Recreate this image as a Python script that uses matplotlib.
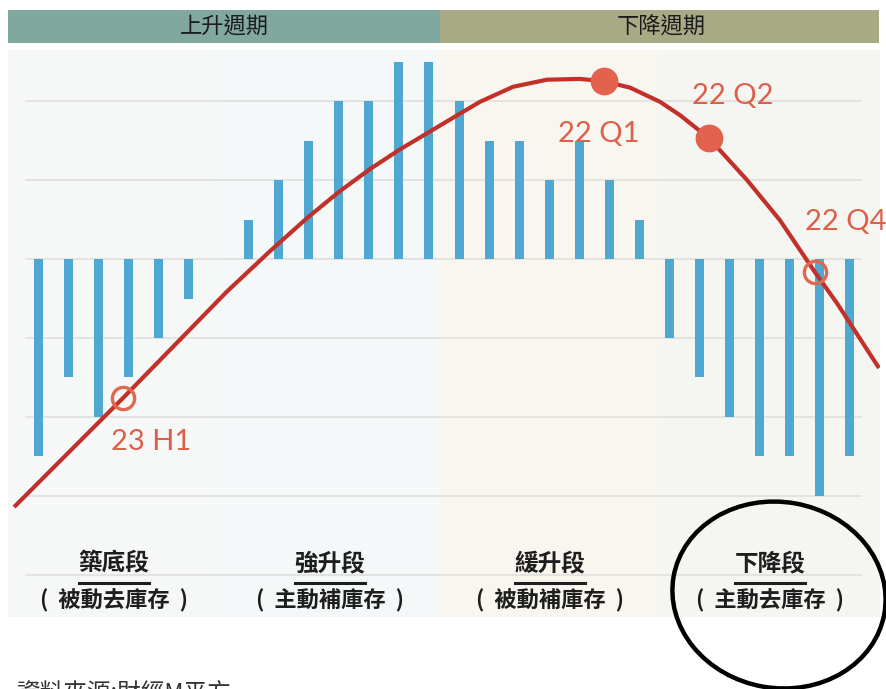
import matplotlib
matplotlib.use("Agg")
import matplotlib.pyplot as plt
from matplotlib.patches import Rectangle, Ellipse

plt.rcParams['font.family'] = ['Noto Sans CJK TC', 'DejaVu Sans']

# inventory bars, one slot per period (slot 6 is empty)
bar_values = [-2.5, -1.5, -2, -1.5, -1, -0.5,
              0,
              0.5, 1, 1.5, 2, 2, 2.5, 2.5,
              2, 1.5, 1.5, 1, 1.5, 1, 0.5,
              -1, -1.5, -2, -2.5, -2.5, -3, -2.5]
bar_pos = list(range(len(bar_values)))

# business cycle curve
curve_x = [-0.83, 2.8, 6.27, 7.73, 8.97, 10.0, 11.0, 12.0, 12.97, 14.03,
           14.7, 15.8, 16.93, 18.03, 18.83, 19.7, 20.7, 21.37, 22.33,
           23.6, 24.7, 25.87, 26.6, 28.0]
curve_y = [-3.14, -1.76, -0.41, 0.11, 0.53, 0.85, 1.13, 1.38, 1.60, 1.84,
           1.99, 2.18, 2.27, 2.28, 2.25, 2.17, 1.99, 1.82, 1.53,
           1.0, 0.49, -0.17, -0.56, -1.38]

# points marked on the curve
pt_names = ['23 H1', '22 Q1', '22 Q2', '22 Q4']
pt_x = [2.8, 18.83, 22.33, 25.87]
pt_y = [-1.76, 2.25, 1.53, -0.17]
pt_filled = [False, True, True, False]
pt_offset = [(20, -32), (-4, -38), (17, 30), (22, 36)]

phase_names = ['上升週期', '下降週期']
stage_names = ['築底段', '強升段', '緩升段', '下降段']
stage_notes = ['(  被動去庫存  )', '(  主動補庫存  )', '(  被動補庫存  )', '(  主動去庫存  )']
stage_edges = [-1.033, 6.033, 13.367, 20.7, 28.033]
stage_colors = ['#f6f7f7', '#f4f8f9', '#f9f6ef', '#f5f5f2']
grid_levels = [2, 1, 0, -1, -2, -3, -4]

W, H = 886, 689
fig = plt.figure(figsize=(W / 100, H / 100), dpi=100)
ax = fig.add_axes([8 / W, 72 / H, 872 / W, 567 / H])
ax.set_xlim(stage_edges[0], stage_edges[-1])
ax.set_ylim(-4.532, 2.646)
ax.axis('off')

for i in range(4):
    ax.axvspan(stage_edges[i], stage_edges[i + 1], color=stage_colors[i], lw=0, zorder=0)
ax.hlines(grid_levels, -0.47, 27.43, color='#e1e1de', lw=1.3, zorder=1)

ax.bar(bar_pos, bar_values, width=0.3, color='#4fa8d2', zorder=2)
ax.plot(curve_x, curve_y, color='#c2302a', lw=3, zorder=3,
        solid_capstyle='butt', solid_joinstyle='round')

for name, x, y, filled, off in zip(pt_names, pt_x, pt_y, pt_filled, pt_offset):
    if filled:
        ax.plot(x, y, 'o', ms=19, color='#e2624d', mec='#e2624d', zorder=4)
    else:
        ax.plot(x, y, 'o', ms=16, mfc='none', mec='#e2674f', mew=2.4, zorder=4)
    ax.annotate(name, (x, y), xytext=off, textcoords='offset points',
                ha='center', va='center', fontsize=21, color='#dd5f4a',
                family=['Lato', 'DejaVu Sans'], zorder=5)

# stage labels along the bottom
for i in range(4):
    cx = (stage_edges[i] + stage_edges[i + 1]) / 2
    ax.text(cx, -3.85, stage_names[i], ha='center', va='center',
            fontsize=17, weight='bold', color='#1e1e1e', zorder=5)
    ax.plot([cx - 1.18, cx + 1.18], [-4.10, -4.10], color='#1e1e1e', lw=2.2, zorder=5)
    ax.text(cx, -4.33, stage_notes[i], ha='center', va='center',
            fontsize=16, weight='bold', color='#1e1e1e', zorder=5)

# cycle header
fig.add_artist(Rectangle((8 / W, 646 / H), 432 / W, 33 / H, transform=fig.transFigure,
                         color='#80a89e', lw=0))
fig.add_artist(Rectangle((440 / W, 646 / H), 439 / W, 33 / H, transform=fig.transFigure,
                         color='#a8aa85', lw=0))
fig.text(224 / W, 662 / H, phase_names[0], ha='center', va='center', fontsize=16, color='#1c1c1c')
fig.text(661 / W, 662 / H, phase_names[1], ha='center', va='center', fontsize=16, color='#1c1c1c')

fig.add_artist(Ellipse((7.79, 0.94), 2.14, 1.86, angle=-10, transform=fig.dpi_scale_trans,
                       fill=False, lw=3.2, color='black'))

fig.text(17 / W, 7 / H, '資料來源:財經M平方', ha='left', va='top', fontsize=17, color='#333333')

fig.savefig('out.png', dpi=100)
